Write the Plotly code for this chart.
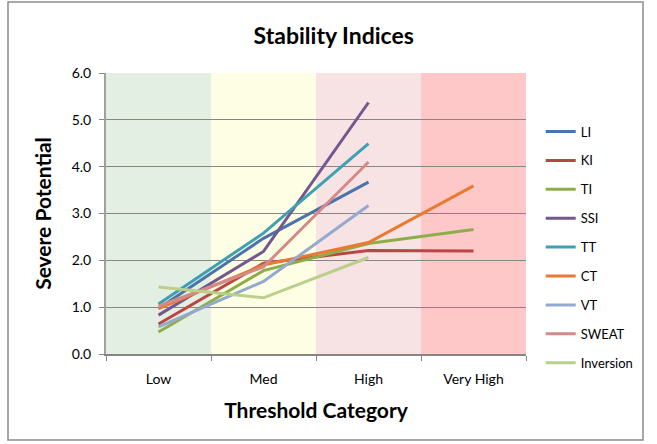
import plotly.graph_objects as go

categories = ["Low", "Med", "High", "Very High"]
LI = [0.97, 2.47, 3.67, None]
KI = [0.64, 1.94, 2.21, 2.20]
TI = [0.47, 1.78, 2.36, 2.66]
SSI = [0.83, 2.19, 5.37, None]
TT = [1.07, 2.58, 4.49, None]
CT = [0.97, 1.90, 2.38, 3.59]
VT = [0.58, 1.55, 3.17, None]
SWEAT = [1.02, 1.86, 4.10, None]
Inversion = [1.43, 1.20, 2.06, None]

series_names = ["LI", "KI", "TI", "SSI", "TT", "CT", "VT", "SWEAT", "Inversion"]
series_values = [LI, KI, TI, SSI, TT, CT, VT, SWEAT, Inversion]
colors = ["#4a74ab", "#b94643", "#8cae4a", "#74578f", "#3f9fb3",
          "#ea7a31", "#93a9cf", "#d48a88", "#b9d08a"]
band_colors = ["#e4efe4", "#fefee4", "#f7e3e4", "#fec8c8"]
y_ticks = [0, 1, 2, 3, 4, 5, 6]

fig = go.Figure()
for i, (name, vals) in enumerate(zip(series_names, series_values)):
    xs = [c for c, v in zip(categories, vals) if v is not None]
    ys = [v for v in vals if v is not None]
    fig.add_trace(go.Scatter(x=xs, y=ys, name=name, mode="lines",
                             line=dict(color=colors[i], width=3),
                             legendgroup=name))

shapes = []
for i, bc in enumerate(band_colors):
    shapes.append(dict(type="rect", xref="x", yref="y", x0=i - 0.5, x1=i + 0.5,
                       y0=0, y1=6, fillcolor=bc, line=dict(width=0), layer="below"))
# outer chart frame
shapes.append(dict(type="rect", xref="paper", yref="paper",
                   x0=(8 - 106) / 420, x1=(643 - 106) / 420,
                   y0=(444 - 90 - 440) / 281, y1=(444 - 90 - 2) / 281,
                   line=dict(color="#8c8c8c", width=1.5), fillcolor="rgba(0,0,0,0)"))

fig.update_layout(
    width=657, height=444,
    margin=dict(l=106, r=131, t=73, b=90, autoexpand=False),
    paper_bgcolor="white", plot_bgcolor="white",
    font=dict(family="Lato, Open Sans, sans-serif", color="#000"),
    title=dict(text="<b>Stability Indices</b>", x=0.508, xanchor="center",
               y=0.92, yanchor="middle", font=dict(size=23)),
    shapes=shapes,
    showlegend=True,
    legend=dict(x=1.035, xanchor="left", y=0.845, yanchor="top",
                font=dict(size=13), tracegroupgap=9, itemwidth=30,
                bgcolor="rgba(0,0,0,0)"),
    xaxis=dict(type="category", categoryorder="array", categoryarray=categories,
               range=[-0.5, 3.5], tickson="boundaries", ticks="outside",
               ticklen=5, tickcolor="#868686", showline=True, linecolor="#868686",
               linewidth=1.5, showgrid=False, tickfont=dict(size=14),
               ticklabelstandoff=11, automargin=False,
               title=dict(text="<b>Threshold Category</b>", font=dict(size=21),
                          standoff=18)),
    yaxis=dict(range=[0, 6], tickvals=y_ticks, tickformat=".1f",
               ticks="outside", ticklen=5, tickcolor="#868686",
               showline=True, linecolor="#a0a0a0", linewidth=2,
               showgrid=True, gridcolor="#868686", gridwidth=1,
               zeroline=False, tickfont=dict(size=14), automargin=False,
               ticklabelstandoff=5,
               title=dict(text="<b>Severe Potential</b>", font=dict(size=21),
                          standoff=14)),
)

fig.write_html("out.html", config={"displayModeBar": False},
               post_script="document.body.style.margin='0';")
